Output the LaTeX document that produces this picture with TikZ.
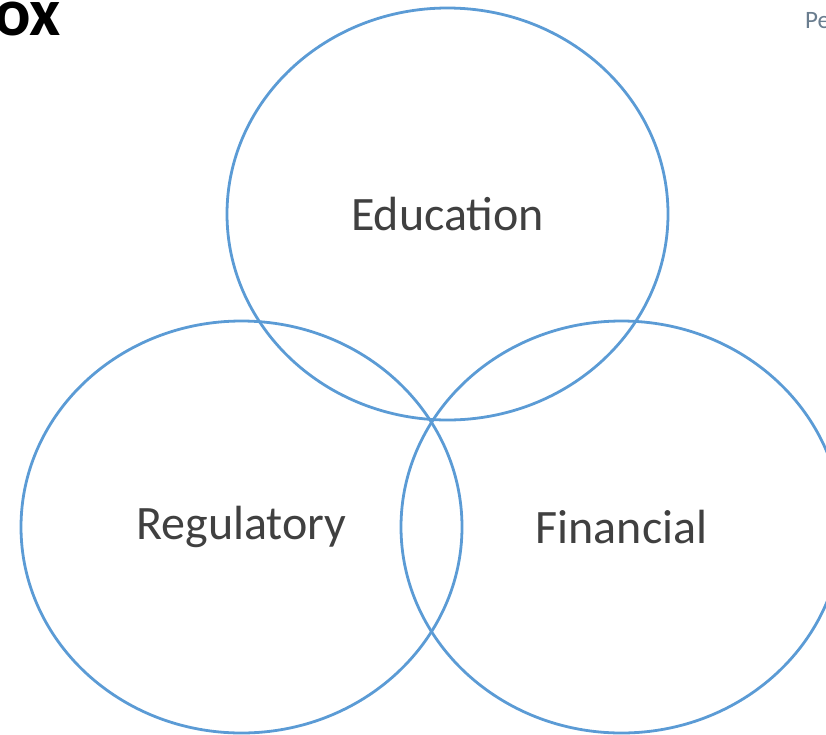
\documentclass[tikz,border=0pt]{standalone}
\usepackage{fontspec}
\setmainfont{Carlito}
\usetikzlibrary{shapes.geometric}
\definecolor{ringblue}{HTML}{5B9BD5}
\definecolor{labelgray}{HTML}{404040}
\definecolor{cornergray}{HTML}{6A7D8F}
\tikzset{
  ring/.style={ellipse, draw=ringblue, line width=2.8pt, minimum width=441pt, minimum height=412pt, inner sep=0pt, outer sep=0pt, text=labelgray, font=\fontsize{48}{52}\selectfont},
}
\begin{document}
\begin{tikzpicture}[x=1pt,y=-1pt]
\useasboundingbox (0,0) rectangle (826,734);
\clip (0,0) rectangle (826,734);
\node[ring] (edu) at (447.5,214) {Education};
\node[ring] (reg) at (241.5,527) {Regulatory};
\node[ring] (fin) at (621.5,527) {Financial};
\node[anchor=base west, inner sep=0pt, font=\bfseries\fontsize{68}{72}\selectfont] (title) at (-44,35) {Box};
\node[anchor=base west, inner sep=0pt, text=cornergray, font=\fontsize{25}{30}\selectfont] (corner) at (805,28) {Pe};
\end{tikzpicture}
\end{document}
